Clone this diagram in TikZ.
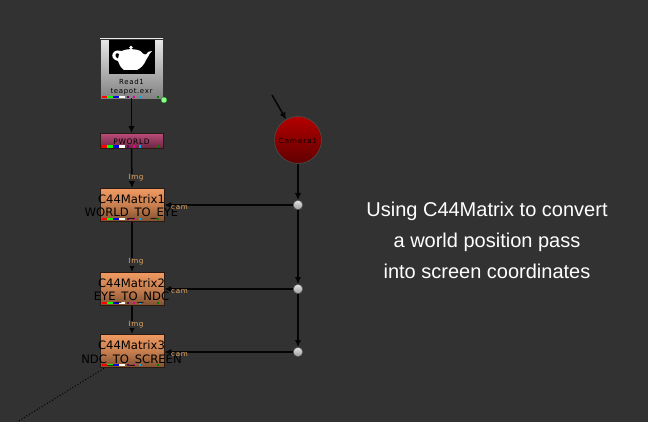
\documentclass[tikz,border=0pt]{standalone}
\usepackage{fontspec}
\setmainfont{Liberation Sans}
\newfontfamily\nodefont{DejaVu Sans}
\newfontfamily\tinyfont[LetterSpace=9]{DejaVu Sans}
\newfontfamily\camfont[LetterSpace=15]{DejaVu Sans}
\usetikzlibrary{arrows.meta,positioning,calc}
\definecolor{bg}{HTML}{323232}
\definecolor{edgeline}{HTML}{050505}
\definecolor{boxedge}{HTML}{2A1A14}
\definecolor{cam}{HTML}{E8A860}
\definecolor{matTop}{HTML}{F09A62}
\definecolor{matMid}{HTML}{C87F50}
\definecolor{matBot}{HTML}{7E5030}
\definecolor{pwTop}{HTML}{B84C78}
\definecolor{pwBot}{HTML}{6A2440}
\definecolor{readTop}{HTML}{E8E8E8}
\definecolor{readBot}{HTML}{808080}
\definecolor{camTop}{HTML}{B40000}
\definecolor{camBot}{HTML}{600000}
\tikzset{
  wire/.style={draw=edgeline,line width=1.5pt,-{Latex[length=7pt,width=6.5pt]}},
  matrixbox/.style={draw=boxedge,line width=.8pt,minimum width=64pt,minimum height=33pt,inner sep=0pt,
     top color=matTop,bottom color=matBot,middle color=matMid},
  pworldbox/.style={draw=boxedge,line width=.8pt,minimum width=63pt,minimum height=15pt,inner sep=0pt,
     top color=pwTop,bottom color=pwBot},
  readbox/.style={draw=black!80,line width=.8pt,minimum width=63pt,minimum height=60pt,inner sep=0pt,
     top color=readTop,bottom color=readBot},
  dot/.style={circle,draw=black!70,line width=.5pt,minimum size=9.5pt,inner sep=0pt,
     top color=white!90!black,bottom color=black!40},
  nodelabel/.style={font=\nodefont\fontsize{11.6}{14}\selectfont,text=black,align=center,inner sep=0pt},
  tinylabel/.style={font=\tinyfont\fontsize{7}{8}\selectfont,text=black,inner sep=0pt},
  pinlabel/.style={font=\tinyfont\fontsize{7.2}{8}\selectfont,text=cam,inner sep=0pt},
  note/.style={font=\fontsize{20}{31}\selectfont,text=white,align=center,inner sep=0pt},
}
\newcommand{\chanbar}[2]{%
 \fill[red] (#1+2,#2) rectangle ++(5,2.4);
 \fill[green] (#1+7,#2) rectangle ++(6,2.4);
 \fill[blue!90!black] (#1+13,#2) rectangle ++(6,2.4);
 \fill[white] (#1+19,#2) rectangle ++(6,2.4);
 \fill[violet!80!black] (#1+27,#2) rectangle ++(2.4,2.4);
 \fill[magenta] (#1+33,#2) rectangle ++(2.4,2.4);
 \fill[cyan] (#1+39,#2) rectangle ++(2.4,2.4);
 \fill[green!50!black] (#1+57,#2) rectangle ++(2.4,2.4);
}
\begin{document}
\begin{tikzpicture}[x=1pt,y=-1pt]
\useasboundingbox (0,0) rectangle (648,422);
\fill[bg] (0,0) rectangle (648,422);

% nodes
\coordinate (viewerEnd) at (17,422);
\node[matrixbox] (m3) at (132,351) {};
\draw[black,line width=1pt,dash pattern=on 1pt off 2pt] (m3.center) -- (viewerEnd);
\node[matrixbox] (m3) at (132,351) {};

\node[readbox] (read) at (131.5,69) {};
\fill[black] (109,40) rectangle (155,74);
\fill[white] (131,47.5) circle (1.8);
\fill[white] (122,51) .. controls (126,48.5) and (137,48.5) .. (141,51.5)
  .. controls (144,55) and (146,56) .. (148,52) -- (152,51) .. controls (149,53) and (149,56) .. (146,60)
  .. controls (144,65) and (141,68) .. (137,70) -- (124,70)
  .. controls (120,67) and (119,64) .. (118,61) .. controls (113,60) and (111,56) .. (113,53)
  .. controls (115,50) and (119,50) .. (122,51) -- cycle;
\fill[black] (115.5,54) .. controls (115,56) and (116,58) .. (118,58.5) -- (119,54) .. controls (118,53) and (116,53) .. (115.5,54) -- cycle;
\node[tinylabel] (readname) at (131.5,82) {Read1};
\node[tinylabel] (readfile) at (131.5,92) {teapot.exr};
\chanbar{100}{96}
\node[circle,fill=green!45!white,draw=green!50!black,line width=.3pt,minimum size=6pt,inner sep=0pt] (readdot) at (164,100) {};

\node[pworldbox] (pworld) at (131.5,141) {};
\node[font=\tinyfont\fontsize{7.5}{8}\selectfont,text=black,inner sep=0pt] (pworldname) at (131.5,142) {PWORLD};
\chanbar{100}{145.5}

\node[matrixbox] (m1) at (132,205) {};
\node[matrixbox] (m2) at (132,289) {};
\chanbar{100}{218}
\chanbar{100}{302}
\chanbar{100}{364}
\node[nodelabel] (m1a) at (131.5,199) {C44Matrix1};
\node[nodelabel] (m1b) at (131.5,213.5) {WORLD\_TO\_EYE};
\node[nodelabel] (m2a) at (131.5,283) {C44Matrix2};
\node[nodelabel] (m2b) at (131.5,297.5) {EYE\_TO\_NDC};
\node[nodelabel] (m3a) at (131.5,345.5) {C44Matrix3};
\node[nodelabel] (m3b) at (131.5,360.5) {NDC\_TO\_SCREEN};

\node[circle,draw=black!70,line width=.6pt,minimum size=47pt,inner sep=0pt,top color=camTop,bottom color=camBot] (camera) at (298,140) {};
\node[font=\camfont\fontsize{7}{8}\selectfont,text=black,inner sep=0pt] (cameraname) at (298,141) {Camera1};
\coordinate (camin) at (272,95);

\node[dot] (d1) at (298,205) {};
\node[dot] (d2) at (298,289) {};
\node[dot] (d3) at (298,352) {};

% connectors
\coordinate (r0) at ([yshift=1pt]read.south);
\draw[wire] (r0) -- (pworld.north);
\draw[wire] (pworld.south) -- (m1.north);
\draw[wire] (m1.south) -- (m2.north);
\draw[wire] (m2.south) -- (m3.north);
\draw[wire] (camin) -- (camera);
\draw[wire] (camera.south) -- (d1.north);
\draw[wire] (d1.south) -- (d2.north);
\draw[wire] (d2.south) -- (d3.north);
\draw[wire] (d1.west) -- (d1.west -| m1.east);
\draw[wire] (d2.west) -- (d2.west -| m2.east);
\draw[wire] (d3.west) -- (d3.west -| m3.east);

% pin labels
\node[pinlabel,fill=bg,inner sep=.5pt] (img1) at (136,177.5) {Img};
\node[pinlabel,fill=bg,inner sep=.5pt] (img2) at (136,262) {Img};
\node[pinlabel,fill=bg,inner sep=.5pt] (img3) at (136,324.5) {Img};
\node[pinlabel] (cam1) at (179.5,208) {cam};
\node[pinlabel] (cam2) at (179.5,291.5) {cam};
\node[pinlabel] (cam3) at (179.5,354.5) {cam};

\node[note] (caption) at (487,240) {Using C44Matrix to convert\\a world position pass\\into screen coordinates};
\end{tikzpicture}
\end{document}
